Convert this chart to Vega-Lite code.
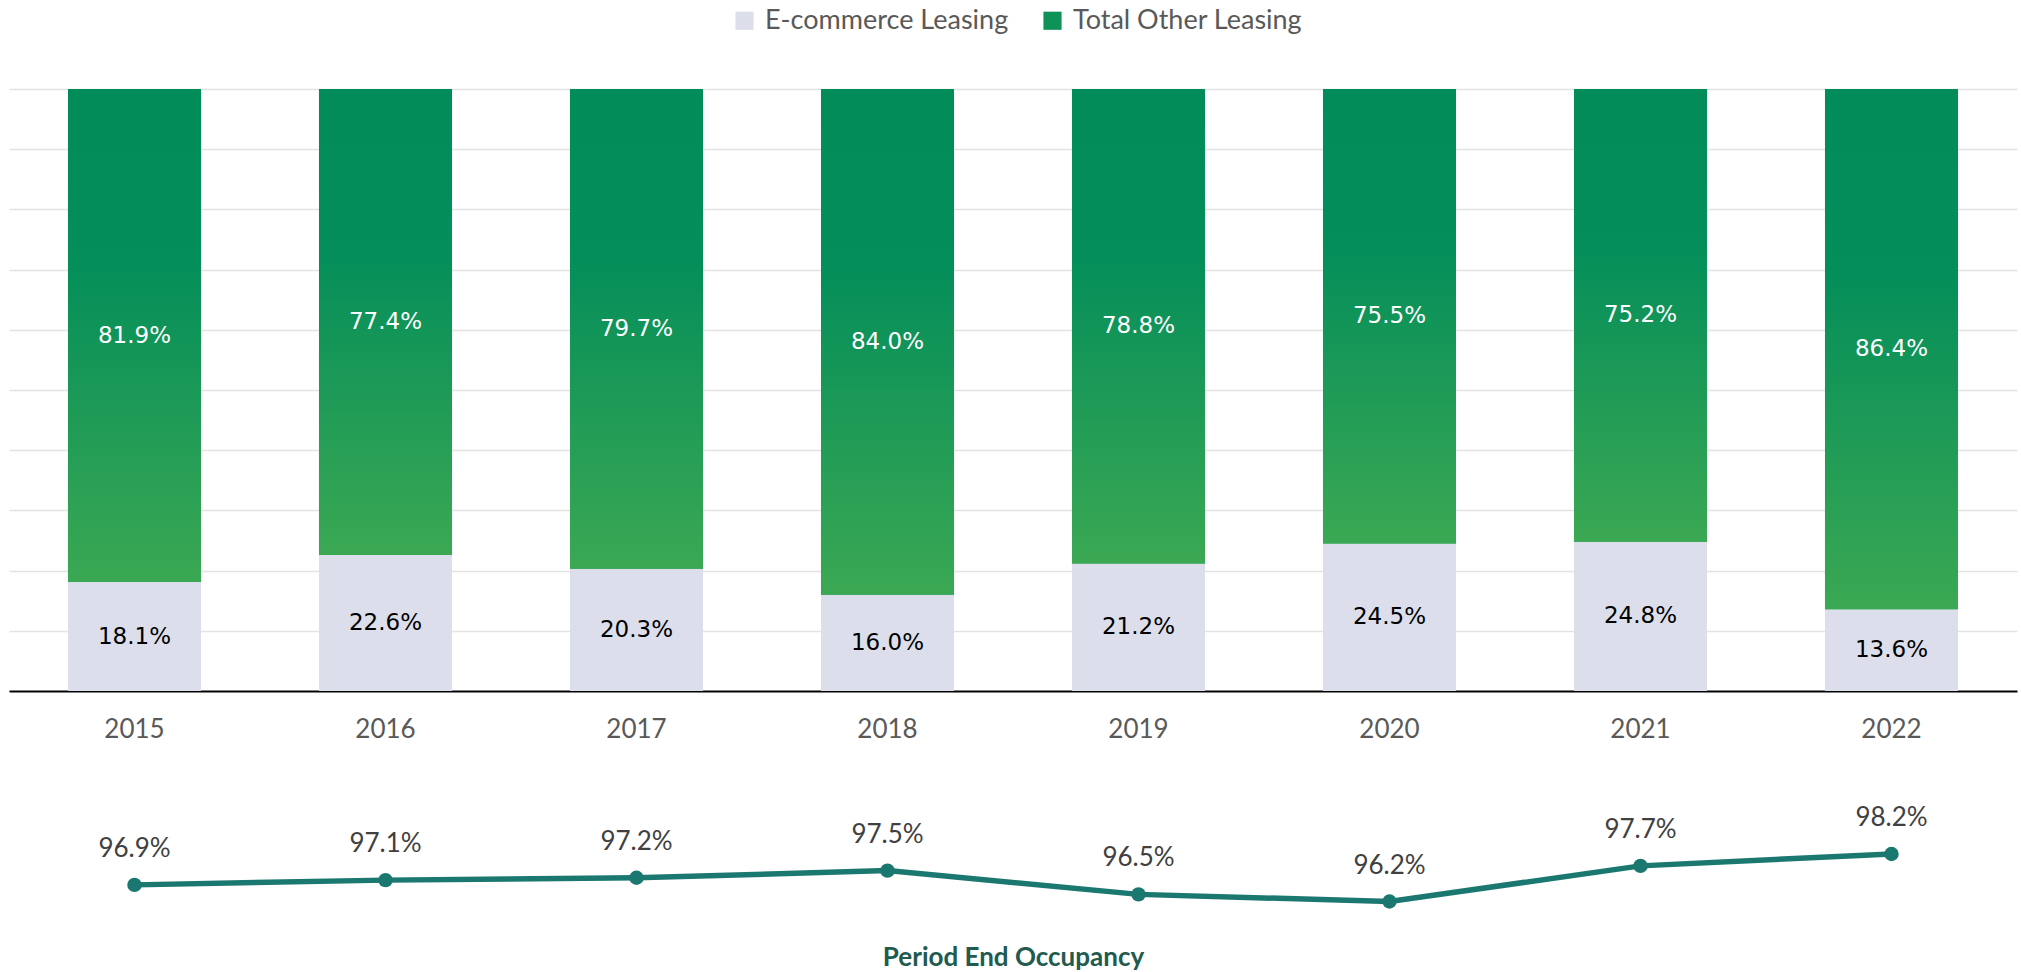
{
  "$schema": "https://vega.github.io/schema/vega-lite/v6.json",
  "padding": {"left": 9, "top": 7, "right": 4, "bottom": 0},
  "background": "white",
  "bounds": "flush",
  "spacing": 144,
  "config": {"view": {"stroke": null}, "font": "Lato"},
  "data": {
    "values": [
      {"year": "2015", "E-commerce Leasing": 0.181, "Total Other Leasing": 0.819, "occupancy": 0.969},
      {"year": "2016", "E-commerce Leasing": 0.226, "Total Other Leasing": 0.774, "occupancy": 0.971},
      {"year": "2017", "E-commerce Leasing": 0.203, "Total Other Leasing": 0.797, "occupancy": 0.972},
      {"year": "2018", "E-commerce Leasing": 0.160, "Total Other Leasing": 0.840, "occupancy": 0.975},
      {"year": "2019", "E-commerce Leasing": 0.212, "Total Other Leasing": 0.788, "occupancy": 0.965},
      {"year": "2020", "E-commerce Leasing": 0.245, "Total Other Leasing": 0.755, "occupancy": 0.962},
      {"year": "2021", "E-commerce Leasing": 0.248, "Total Other Leasing": 0.752, "occupancy": 0.977},
      {"year": "2022", "E-commerce Leasing": 0.136, "Total Other Leasing": 0.864, "occupancy": 0.982}
    ]
  },
  "vconcat": [
    {
      "width": 2008,
      "height": 602,
      "resolve": {"scale": {"y": "independent"}},
      "layer": [
        {
          "transform": [{"fold": ["E-commerce Leasing", "Total Other Leasing"], "as": ["series", "share"]}],
          "mark": {"type": "bar"},
          "encoding": {
            "x": {
              "field": "year", "type": "ordinal",
              "scale": {"paddingInner": 0.47, "paddingOuter": 0.235},
              "axis": {"title": null, "labelAngle": 0, "labelFontSize": 26, "labelFont": "Lato", "labelColor": "#595959", "ticks": false, "tickSize": 0, "labelPadding": 25, "domainColor": "#000000", "domainWidth": 2, "grid": false}
            },
            "y": {
              "field": "share", "type": "quantitative", "stack": "zero",
              "scale": {"domain": [0, 1]},
              "axis": {"title": null, "labels": false, "ticks": false, "domain": false, "grid": true, "gridColor": "#e3e3e3", "gridWidth": 1.5, "values": [0.1, 0.2, 0.3, 0.4, 0.5, 0.6, 0.7, 0.8, 0.9, 1.0]}
            },
            "order": {"field": "series", "sort": "ascending"},
            "color": {
              "field": "series", "type": "nominal",
              "scale": {"domain": ["E-commerce Leasing", "Total Other Leasing"], "range": ["#DCDFEB", "#0F9258"]},
              "legend": {"orient": "none", "legendX": 722, "legendY": -82, "direction": "horizontal", "title": null, "symbolType": "square", "symbolSize": 330, "symbolStrokeWidth": 0, "labelFontSize": 27, "labelFont": "Lato", "labelColor": "#595959", "labelLimit": 500, "columnPadding": 30, "labelOffset": 7, "padding": 0}
            }
          }
        },
        {
          "transform": [
            {"fold": ["E-commerce Leasing", "Total Other Leasing"], "as": ["series", "share"]},
            {"stack": "share", "groupby": ["year"], "sort": [{"field": "series", "order": "ascending"}], "as": ["s0", "s1"]},
            {"filter": {"field": "series", "equal": "Total Other Leasing"}}
          ],
          "mark": {
            "type": "bar",
            "color": {"gradient": "linear", "x1": 0, "y1": 0, "x2": 0, "y2": 1,
              "stops": [{"offset": 0, "color": "#018C5A"}, {"offset": 0.35, "color": "#048E5A"}, {"offset": 1, "color": "#3BA853"}]}
          },
          "encoding": {
            "x": {"field": "year", "type": "ordinal"},
            "y": {"field": "s0", "type": "quantitative", "scale": {"domain": [0, 1]}, "axis": null},
            "y2": {"field": "s1"}
          }
        },
        {
          "mark": {"type": "text", "font": "DejaVu Sans", "fontSize": 23, "color": "#000000", "baseline": "middle"},
          "encoding": {
            "x": {"field": "year", "type": "ordinal"},
            "y": {"field": "E-commerce Leasing", "type": "quantitative", "scale": {"domain": [0, 2]}, "axis": null},
            "text": {"field": "E-commerce Leasing", "type": "quantitative", "format": ".1%"}
          }
        },
        {
          "mark": {"type": "text", "font": "DejaVu Sans", "fontSize": 23, "color": "#ffffff", "baseline": "middle"},
          "encoding": {
            "x": {"field": "year", "type": "ordinal"},
            "y": {"field": "E-commerce Leasing", "type": "quantitative", "scale": {"domain": [-1, 1]}, "axis": null},
            "text": {"field": "Total Other Leasing", "type": "quantitative", "format": ".1%"}
          }
        }
      ]
    },
    {
      "width": 2008,
      "height": 95,
      "layer": [
        {
          "mark": {"type": "line", "color": "#1B7870", "strokeWidth": 5.5},
          "encoding": {
            "x": {
              "field": "year", "type": "ordinal",
              "axis": {"title": "Period End Occupancy", "titleFont": "Lato", "titleFontSize": 26, "titleFontWeight": "bold", "titleColor": "#215A4F", "titlePadding": 14, "labels": false, "ticks": false, "tickSize": 0, "domain": false, "grid": false}
            },
            "y": {"field": "occupancy", "type": "quantitative", "scale": {"domain": [0.95, 0.99]}, "axis": null}
          }
        },
        {
          "mark": {"type": "point", "filled": true, "size": 210, "color": "#1B7870", "opacity": 1},
          "encoding": {
            "x": {"field": "year", "type": "ordinal"},
            "y": {"field": "occupancy", "type": "quantitative"}
          }
        },
        {
          "mark": {"type": "text", "font": "Lato", "fontSize": 26, "color": "#404040", "baseline": "alphabetic", "dy": -28},
          "encoding": {
            "x": {"field": "year", "type": "ordinal"},
            "y": {"field": "occupancy", "type": "quantitative"},
            "text": {"field": "occupancy", "type": "quantitative", "format": ".1%"}
          }
        }
      ]
    }
  ]
}
